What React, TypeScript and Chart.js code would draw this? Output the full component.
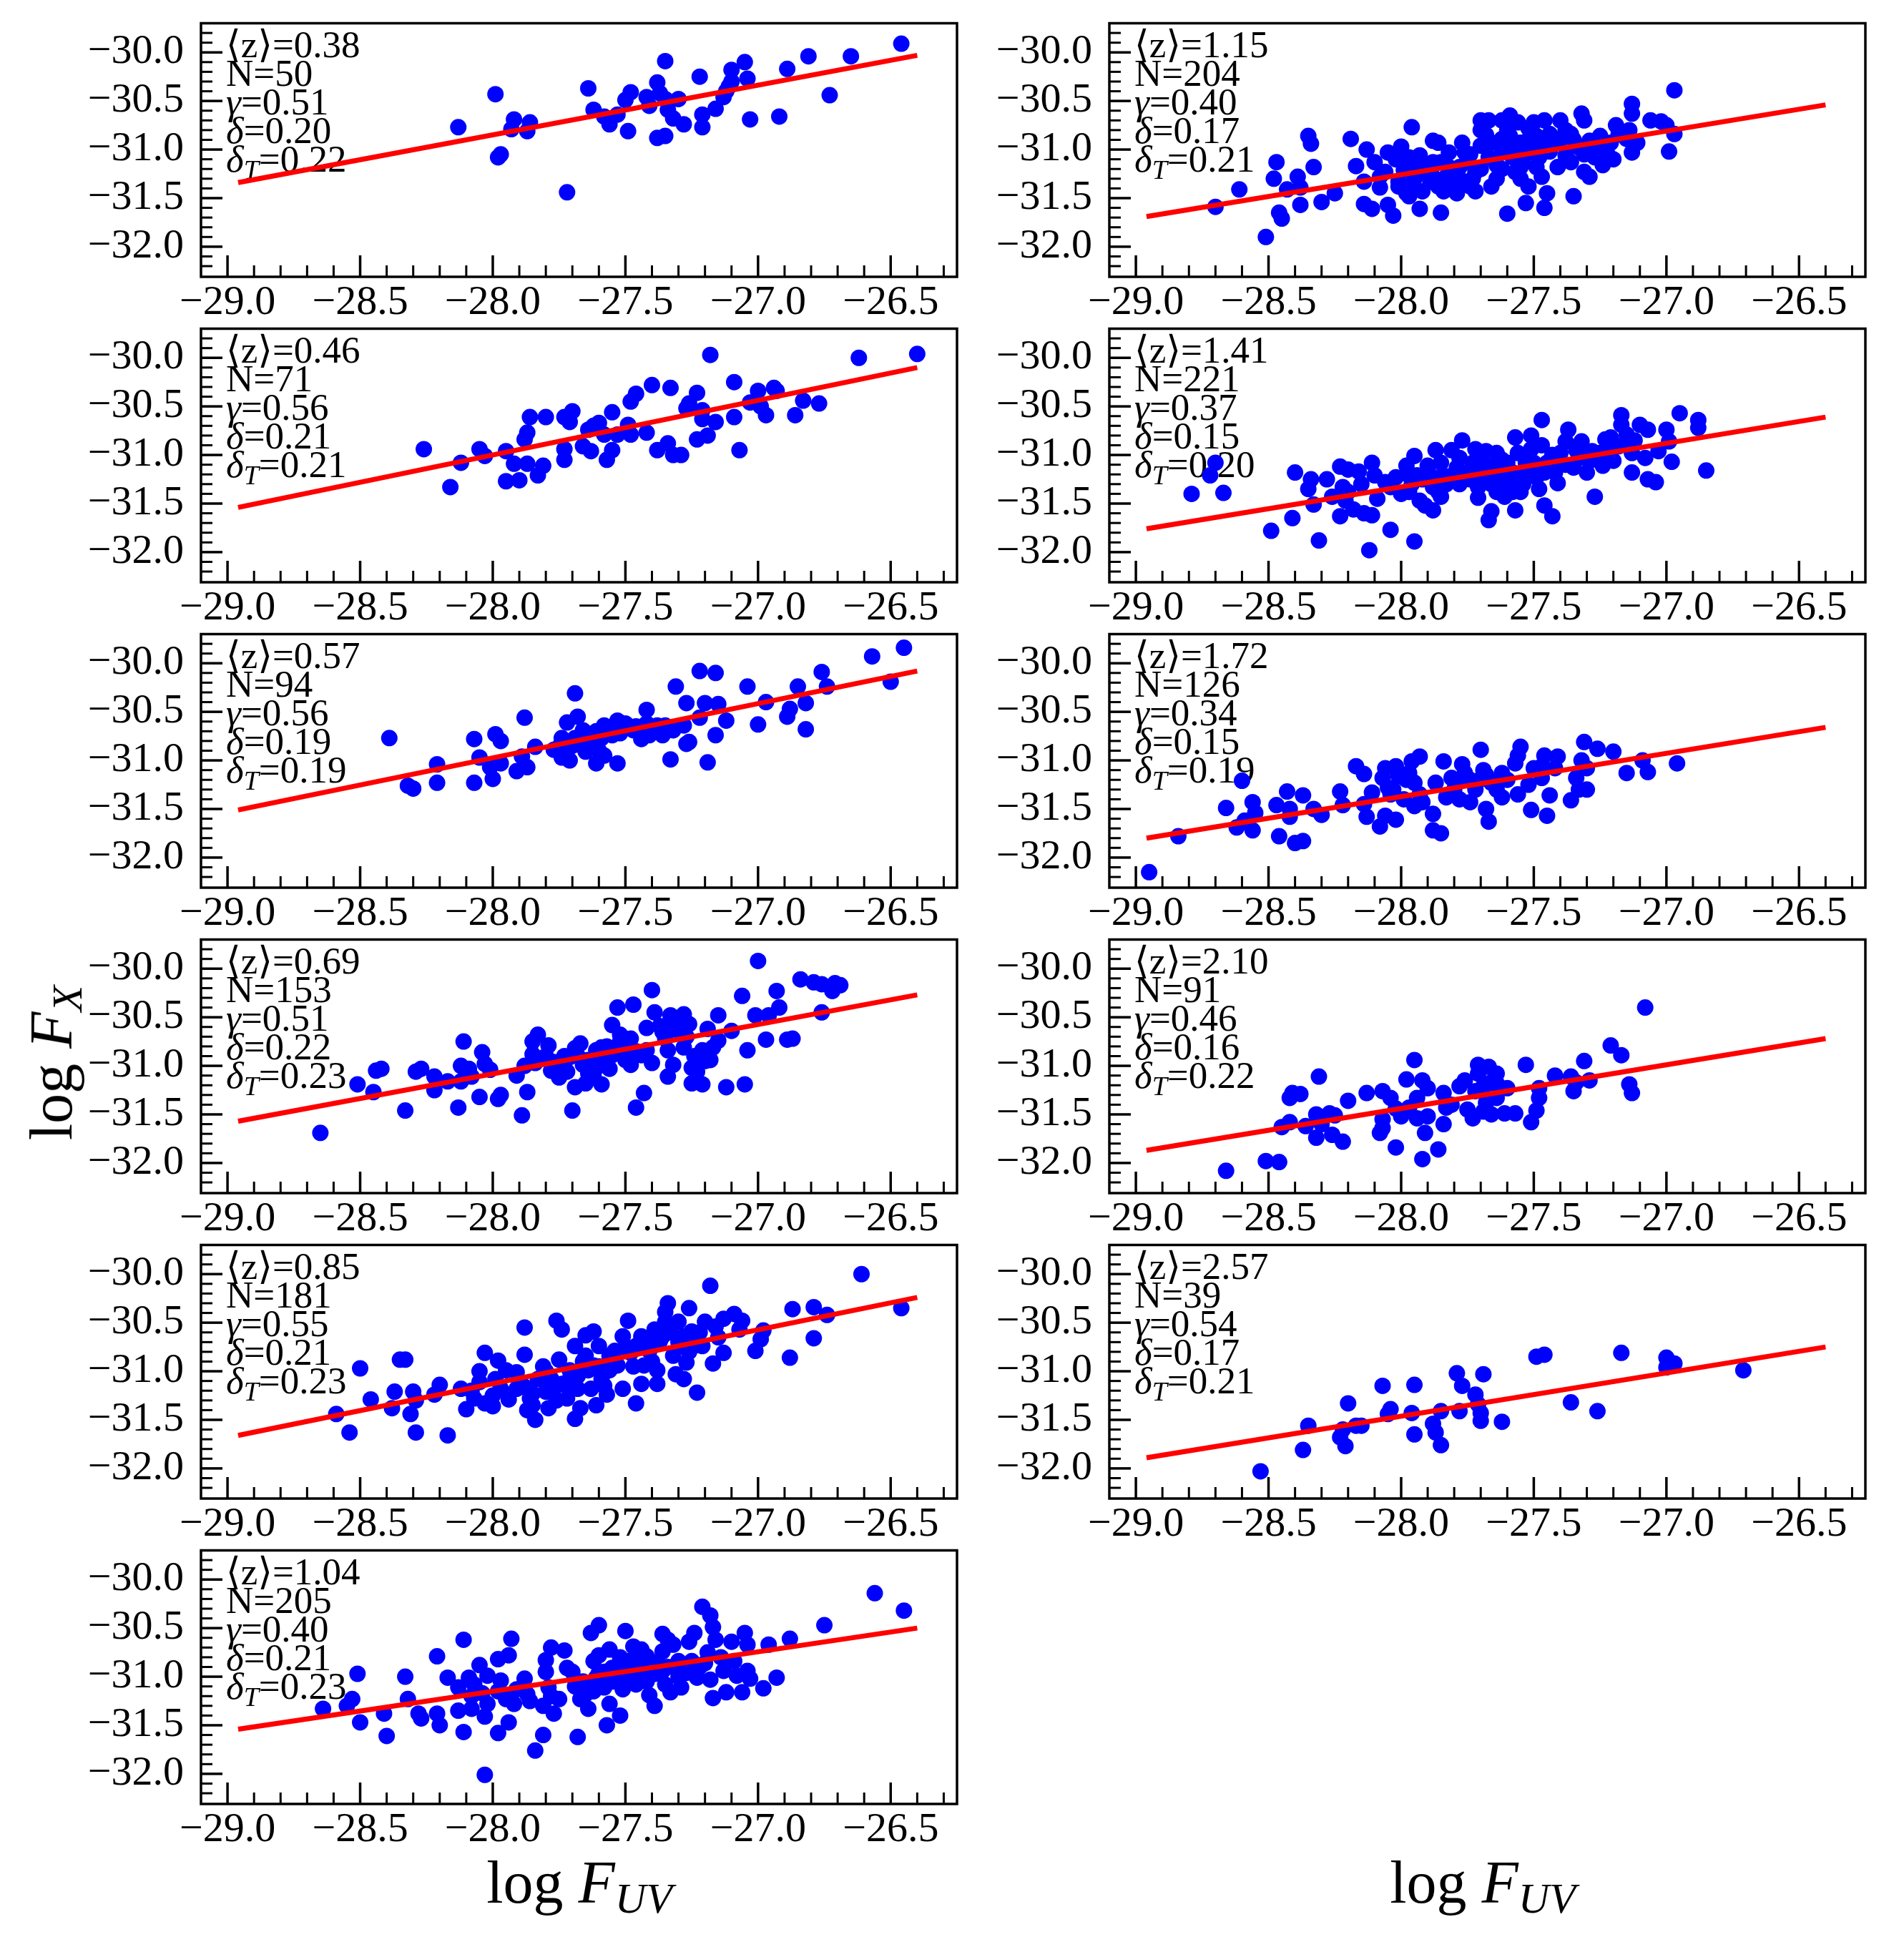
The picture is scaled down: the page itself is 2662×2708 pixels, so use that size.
import { useEffect, useRef } from 'react';
import Chart from 'chart.js/auto';

// axis setup shared by every panel
const xTicks = [-29.0, -28.5, -28.0, -27.5, -27.0, -26.5];
const yTicks = [-30.0, -30.5, -31.0, -31.5, -32.0];
const xMin = -29.1;
const xMax = -26.25;
const yMin = -32.31;
const yMax = -29.7;

// panel annotations (left column top->bottom, then right column)
const zLabels = ['0.38', '0.46', '0.57', '0.69', '0.85', '1.04', '1.15', '1.41', '1.72', '2.10', '2.57'];
const nLabels = ['50', '71', '94', '153', '181', '205', '204', '221', '126', '91', '39'];
const gammaLabels = ['0.51', '0.56', '0.56', '0.51', '0.55', '0.40', '0.40', '0.37', '0.34', '0.46', '0.54'];
const deltaLabels = ['0.20', '0.21', '0.19', '0.22', '0.21', '0.21', '0.17', '0.15', '0.15', '0.16', '0.17'];
const deltaTLabels = ['0.22', '0.21', '0.19', '0.23', '0.23', '0.23', '0.21', '0.20', '0.19', '0.22', '0.21'];

// red fit line: log F_X at the two ends of fitX
const fitX = [-28.96, -26.4];
const fitStart = [-31.34, -31.54, -31.51, -31.57, -31.66, -31.54, -31.69, -31.76, -31.8, -31.87, -31.89];
const fitEnd = [-30.03, -30.1, -30.08, -30.27, -30.24, -30.5, -30.54, -30.61, -30.66, -30.72, -30.75];

type Pt = [number, number];

const z038: Pt[] = [
  [-28.13, -30.77], [-27.99, -30.43], [-27.98, -31.08], [-27.97, -31.05], [-27.92, -30.69], [-27.93, -30.79],
  [-27.86, -30.72], [-27.87, -30.81], [-27.72, -31.44], [-27.64, -30.37], [-27.62, -30.59], [-27.58, -30.66],
  [-27.56, -30.74], [-27.53, -30.64], [-27.5, -30.49], [-27.48, -30.41], [-27.49, -30.81], [-27.42, -30.46],
  [-27.41, -30.55], [-27.38, -30.31], [-27.35, -30.09], [-27.37, -30.42], [-27.35, -30.48], [-27.34, -30.59],
  [-27.32, -30.68], [-27.3, -30.48], [-27.38, -30.88], [-27.35, -30.86], [-27.28, -30.74], [-27.22, -30.25],
  [-27.21, -30.64], [-27.21, -30.77], [-27.16, -30.58], [-27.13, -30.46], [-27.12, -30.4], [-27.1, -30.3],
  [-27.1, -30.18], [-27.05, -30.1], [-27.04, -30.27], [-27.03, -30.69], [-26.92, -30.66], [-26.89, -30.17],
  [-26.81, -30.04], [-26.73, -30.44], [-26.65, -30.04], [-26.46, -29.91], [-27.11, -30.35],
];

const z046: Pt[] = [
  [-28.26, -30.94], [-28.16, -31.33], [-28.12, -31.08], [-28.05, -30.94], [-28.03, -31.01], [-27.95, -31.27],
  [-27.95, -30.96], [-27.92, -31.09], [-27.9, -31.26], [-27.87, -31.09], [-27.88, -30.84], [-27.87, -30.77],
  [-27.86, -30.61], [-27.83, -31.21], [-27.81, -31.11], [-27.8, -30.61], [-27.73, -31.05], [-27.73, -30.94],
  [-27.73, -30.61], [-27.71, -30.66], [-27.7, -30.55], [-27.66, -30.91], [-27.64, -30.74], [-27.63, -30.96],
  [-27.62, -30.7], [-27.6, -30.67], [-27.58, -30.79], [-27.57, -31.05], [-27.55, -30.56], [-27.55, -30.95],
  [-27.53, -30.79], [-27.49, -30.69], [-27.48, -30.79], [-27.48, -30.45], [-27.46, -30.37], [-27.42, -30.77],
  [-27.4, -30.28], [-27.38, -30.95], [-27.34, -30.88], [-27.33, -30.31], [-27.32, -31.0], [-27.29, -31.0],
  [-27.27, -30.52], [-27.26, -30.47], [-27.23, -30.36], [-27.23, -30.84], [-27.21, -30.54], [-27.21, -30.63],
  [-27.19, -30.8], [-27.18, -29.97], [-27.16, -30.66], [-27.09, -30.61], [-27.09, -30.25], [-27.07, -30.95],
  [-27.03, -30.46], [-27.0, -30.34], [-26.99, -30.5], [-26.97, -30.59], [-26.94, -30.31], [-26.93, -30.34],
  [-26.86, -30.59], [-26.83, -30.44], [-26.77, -30.47], [-26.62, -30.0], [-26.4, -29.96],
];

const z057: Pt[] = [
  [-28.39, -30.77], [-28.32, -31.26], [-28.3, -31.29], [-28.21, -31.23], [-28.21, -31.04], [-28.07, -30.78],
  [-28.07, -31.23], [-28.05, -30.97], [-28.01, -31.07], [-28.0, -31.19], [-27.99, -30.73], [-27.97, -30.8],
  [-27.97, -31.03], [-27.91, -31.11], [-27.89, -30.96], [-27.87, -31.07], [-27.88, -30.56], [-27.84, -30.86],
  [-27.77, -30.89], [-27.74, -30.77], [-27.74, -30.97], [-27.72, -30.61], [-27.71, -31.0], [-27.69, -30.31],
  [-27.68, -30.55], [-27.67, -30.84], [-27.66, -30.69], [-27.65, -30.91], [-27.63, -30.79], [-27.61, -30.7],
  [-27.61, -31.03], [-27.61, -30.84], [-27.58, -30.95], [-27.58, -30.64], [-27.55, -30.74], [-27.53, -31.03],
  [-27.53, -30.59], [-27.5, -30.62], [-27.47, -30.69], [-27.42, -30.48], [-27.42, -30.62], [-27.41, -30.74],
  [-27.39, -30.69], [-27.36, -30.74], [-27.35, -30.64], [-27.33, -30.99], [-27.31, -30.24], [-27.28, -30.64],
  [-27.27, -30.41], [-27.27, -30.83], [-27.26, -30.81], [-27.22, -30.08], [-27.22, -30.56], [-27.2, -30.41],
  [-27.19, -31.02], [-27.16, -30.1], [-27.16, -30.74], [-27.15, -30.42], [-27.12, -30.59], [-27.04, -30.24],
  [-27.0, -30.63], [-26.97, -30.4], [-26.89, -30.55], [-26.88, -30.47], [-26.85, -30.24], [-26.82, -30.41],
  [-26.82, -30.68], [-26.76, -30.09], [-26.74, -30.24], [-26.57, -29.93], [-26.5, -30.19], [-26.45, -29.84],
  [-27.75, -30.86], [-27.69, -30.77], [-27.64, -30.84], [-27.59, -30.77], [-27.38, -30.64], [-27.32, -30.69],
  [-27.7, -30.85], [-27.66, -30.75], [-27.6, -30.9], [-27.56, -30.68], [-27.52, -30.72], [-27.46, -30.65],
  [-27.44, -30.78], [-27.36, -30.7],
];

const z069: Pt[] = [
  [-28.65, -31.69], [-28.51, -31.19], [-28.45, -31.27], [-28.44, -31.05], [-28.42, -31.03], [-28.33, -31.46],
  [-28.29, -31.06], [-28.27, -31.03], [-28.22, -31.25], [-28.22, -31.11], [-28.17, -31.16], [-28.13, -31.43],
  [-28.12, -31.0], [-28.11, -30.75], [-28.12, -31.16], [-28.09, -31.03], [-28.08, -31.11], [-28.05, -31.32],
  [-28.04, -30.86], [-28.03, -30.98], [-28.01, -31.04], [-27.98, -31.34], [-27.97, -31.3], [-27.91, -31.1],
  [-27.89, -31.51], [-27.88, -31.0], [-27.87, -31.27], [-27.85, -30.75], [-27.85, -30.88], [-27.83, -30.68],
  [-27.84, -30.97], [-27.79, -30.79], [-27.77, -30.96], [-27.75, -31.12], [-27.73, -30.9], [-27.72, -31.06],
  [-27.7, -31.46], [-27.69, -30.82], [-27.69, -31.22], [-27.67, -30.77], [-27.66, -30.99], [-27.65, -31.18],
  [-27.64, -31.08], [-27.61, -30.84], [-27.61, -31.02], [-27.59, -31.19], [-27.59, -30.81], [-27.58, -30.94],
  [-27.56, -31.03], [-27.55, -30.58], [-27.53, -30.4], [-27.52, -30.68], [-27.51, -30.84], [-27.5, -30.94],
  [-27.48, -30.72], [-27.48, -30.99], [-27.47, -30.37], [-27.46, -31.43], [-27.43, -31.28], [-27.42, -30.61],
  [-27.42, -30.84], [-27.4, -30.22], [-27.4, -30.97], [-27.39, -30.45], [-27.37, -30.59], [-27.35, -30.72],
  [-27.34, -30.84], [-27.34, -31.11], [-27.33, -30.48], [-27.32, -30.99], [-27.3, -30.64], [-27.28, -30.47],
  [-27.28, -30.81], [-27.26, -30.57], [-27.25, -31.02], [-27.25, -31.18], [-27.23, -31.06], [-27.21, -30.84],
  [-27.21, -31.19], [-27.19, -30.62], [-27.18, -30.94], [-27.17, -30.81], [-27.15, -30.48], [-27.15, -30.74],
  [-27.12, -31.22], [-27.1, -30.64], [-27.06, -30.28], [-27.05, -31.19], [-27.04, -30.84], [-27.01, -30.48],
  [-27.0, -29.92], [-26.97, -30.73], [-26.96, -30.48], [-26.93, -30.23], [-26.92, -30.4], [-26.89, -30.73],
  [-26.87, -30.72], [-26.84, -30.11], [-26.79, -30.14], [-26.76, -30.16], [-26.76, -30.45], [-26.72, -30.23],
  [-26.71, -30.15], [-26.69, -30.17], [-27.75, -30.99], [-27.71, -30.91], [-27.64, -30.94], [-27.55, -30.89],
  [-27.44, -30.89], [-27.8, -30.9], [-27.78, -31.05], [-27.68, -30.9], [-27.62, -31.1], [-27.57, -30.8],
  [-27.52, -30.75], [-27.46, -30.85], [-27.36, -30.65], [-27.32, -30.55], [-27.27, -30.7], [-27.24, -30.9],
  [-27.2, -30.95],
];

const z085: Pt[] = [
  [-28.59, -31.44], [-28.54, -31.63], [-28.5, -30.97], [-28.46, -31.29], [-28.38, -31.38], [-28.37, -31.21],
  [-28.35, -30.88], [-28.33, -30.88], [-28.31, -31.44], [-28.3, -31.21], [-28.29, -31.63], [-28.29, -31.3],
  [-28.22, -31.24], [-28.2, -31.14], [-28.17, -31.66], [-28.12, -31.18], [-28.1, -31.39], [-28.07, -31.28],
  [-28.05, -31.0], [-28.05, -31.11], [-28.03, -30.81], [-28.03, -31.33], [-28.0, -31.36], [-27.98, -30.89],
  [-27.97, -31.18], [-27.95, -30.99], [-27.94, -31.29], [-27.91, -31.01], [-27.88, -30.83], [-27.88, -31.16],
  [-27.88, -30.55], [-27.87, -31.4], [-27.85, -31.23], [-27.85, -31.35], [-27.84, -31.5], [-27.81, -30.95],
  [-27.8, -31.21], [-27.79, -31.38], [-27.78, -31.08], [-27.76, -30.48], [-27.75, -30.88], [-27.74, -30.57],
  [-27.74, -31.13], [-27.72, -31.28], [-27.71, -30.99], [-27.69, -31.49], [-27.69, -30.74], [-27.68, -31.18],
  [-27.67, -31.38], [-27.65, -30.63], [-27.64, -30.99], [-27.63, -31.18], [-27.62, -30.59], [-27.61, -31.35],
  [-27.6, -30.74], [-27.59, -31.08], [-27.57, -31.24], [-27.56, -30.99], [-27.54, -30.79], [-27.53, -30.94],
  [-27.51, -30.64], [-27.51, -31.18], [-27.49, -30.48], [-27.48, -30.81], [-27.46, -31.33], [-27.44, -30.64],
  [-27.44, -31.13], [-27.43, -30.94], [-27.41, -30.79], [-27.39, -30.57], [-27.38, -31.13], [-27.38, -30.99],
  [-27.37, -30.69], [-27.35, -30.49], [-27.35, -30.39], [-27.34, -30.3], [-27.32, -30.84], [-27.31, -31.03],
  [-27.3, -30.49], [-27.29, -30.74], [-27.28, -31.08], [-27.27, -30.91], [-27.26, -30.35], [-27.25, -30.59],
  [-27.23, -30.73], [-27.23, -31.22], [-27.21, -30.74], [-27.2, -30.49], [-27.18, -30.12], [-27.17, -30.92],
  [-27.16, -30.54], [-27.13, -30.81], [-27.13, -30.46], [-27.09, -30.41], [-27.07, -30.57], [-27.06, -30.48],
  [-27.01, -30.79], [-26.99, -30.67], [-26.98, -30.58], [-26.88, -30.86], [-26.87, -30.36], [-26.79, -30.66],
  [-26.79, -30.34], [-26.74, -30.42], [-26.61, -30.0], [-26.46, -30.35], [-27.83, -31.08], [-27.77, -31.18],
  [-27.71, -31.08], [-27.65, -30.84], [-27.62, -30.94], [-27.56, -30.84], [-27.46, -30.74], [-27.36, -30.64],
  [-27.28, -30.64], [-27.99, -31.08], [-27.91, -31.18], [-27.9, -31.1], [-27.86, -31.28], [-27.8, -31.0],
  [-27.76, -31.3], [-27.72, -31.15], [-27.68, -31.05], [-27.66, -30.9], [-27.6, -30.95], [-27.58, -31.15],
  [-27.54, -30.9], [-27.5, -30.75], [-27.47, -30.95], [-27.42, -30.7], [-27.4, -30.9], [-27.33, -30.6],
  [-27.3, -30.7], [-27.26, -30.8], [-27.22, -30.6], [-27.15, -30.65], [-28.08, -31.2], [-28.0, -31.25],
];

const z104: Pt[] = [
  [-28.64, -31.33], [-28.55, -31.3], [-28.53, -31.23], [-28.51, -30.97], [-28.5, -31.47], [-28.41, -31.38],
  [-28.4, -31.61], [-28.33, -31.0], [-28.32, -31.23], [-28.28, -31.38], [-28.27, -31.43], [-28.21, -30.79],
  [-28.21, -31.38], [-28.2, -31.5], [-28.17, -31.01], [-28.13, -31.35], [-28.13, -31.11], [-28.11, -30.62],
  [-28.11, -31.57], [-28.09, -31.01], [-28.08, -31.33], [-28.07, -31.08], [-28.05, -30.88], [-28.04, -31.17],
  [-28.03, -31.41], [-28.02, -31.28], [-28.02, -30.99], [-28.03, -32.01], [-27.98, -30.82], [-27.98, -31.58],
  [-27.97, -31.04], [-27.95, -31.23], [-27.94, -30.78], [-27.94, -31.47], [-27.93, -30.61], [-27.92, -31.28],
  [-27.91, -31.13], [-27.88, -31.02], [-27.87, -31.18], [-27.84, -31.76], [-27.81, -31.6], [-27.81, -31.3],
  [-27.8, -30.83], [-27.8, -30.95], [-27.79, -31.11], [-27.78, -30.7], [-27.77, -31.38], [-27.75, -31.23],
  [-27.73, -30.73], [-27.72, -30.91], [-27.69, -31.1], [-27.68, -31.62], [-27.67, -31.23], [-27.65, -31.18],
  [-27.64, -31.33], [-27.63, -30.55], [-27.62, -30.84], [-27.61, -31.01], [-27.6, -30.47], [-27.6, -30.78],
  [-27.58, -31.11], [-27.57, -31.5], [-27.56, -31.28], [-27.56, -30.72], [-27.55, -30.91], [-27.53, -31.03],
  [-27.52, -31.4], [-27.51, -31.13], [-27.5, -30.53], [-27.49, -30.84], [-27.48, -30.99], [-27.47, -30.69],
  [-27.46, -31.08], [-27.44, -30.89], [-27.42, -30.79], [-27.41, -31.19], [-27.39, -31.3], [-27.39, -30.97],
  [-27.36, -30.56], [-27.36, -30.74], [-27.35, -31.08], [-27.34, -30.62], [-27.33, -31.16], [-27.32, -30.67],
  [-27.3, -30.84], [-27.29, -31.11], [-27.27, -30.96], [-27.26, -30.64], [-27.24, -30.55], [-27.23, -31.01],
  [-27.21, -30.28], [-27.2, -30.86], [-27.18, -30.37], [-27.18, -31.03], [-27.17, -31.22], [-27.17, -30.49],
  [-27.16, -30.62], [-27.13, -30.94], [-27.12, -31.16], [-27.1, -30.64], [-27.09, -30.84], [-27.08, -30.99],
  [-27.06, -31.16], [-27.05, -30.55], [-27.04, -30.67], [-27.04, -30.94], [-27.03, -31.02], [-26.98, -31.12],
  [-26.96, -30.67], [-26.93, -31.01], [-26.88, -30.61], [-26.75, -30.47], [-26.56, -30.14], [-26.45, -30.32],
  [-27.6, -30.96], [-27.52, -30.89], [-27.44, -30.99], [-27.36, -30.94], [-27.28, -30.89], [-27.44, -30.72],
  [-27.25, -30.84], [-27.7, -30.95], [-27.66, -31.05], [-27.62, -31.15], [-27.58, -30.95], [-27.55, -31.05],
  [-27.52, -30.8], [-27.48, -30.9], [-27.45, -30.8], [-27.42, -31.05], [-27.38, -30.85], [-27.34, -30.9],
  [-27.3, -31.0], [-27.26, -30.95], [-27.22, -30.9], [-27.19, -30.75], [-27.14, -30.8], [-27.86, -31.25],
  [-27.78, -31.2], [-27.98, -31.15], [-28.08, -31.2],
];

const z115: Pt[] = [
  [-28.7, -31.59], [-28.61, -31.41], [-28.51, -31.9], [-28.47, -31.13], [-28.48, -31.3], [-28.46, -31.65],
  [-28.45, -31.71], [-28.43, -31.41], [-28.39, -31.28], [-28.38, -31.39], [-28.38, -31.57], [-28.35, -30.86],
  [-28.34, -30.94], [-28.33, -31.18], [-28.3, -31.54], [-28.25, -31.45], [-28.19, -30.89], [-28.17, -31.17],
  [-28.14, -31.33], [-28.13, -31.0], [-28.14, -31.56], [-28.11, -31.61], [-28.1, -31.13], [-28.08, -31.39],
  [-28.05, -31.03], [-28.05, -31.57], [-28.03, -31.68], [-28.01, -31.33], [-28.0, -30.97], [-27.99, -31.21],
  [-27.98, -31.45], [-27.97, -31.08], [-27.96, -30.77], [-27.95, -31.3], [-27.94, -31.16], [-27.93, -31.61],
  [-27.92, -31.43], [-27.88, -30.91], [-27.88, -31.28], [-27.86, -30.93], [-27.85, -31.13], [-27.85, -31.65],
  [-27.84, -31.43], [-27.83, -31.28], [-27.82, -31.03], [-27.79, -31.45], [-27.78, -31.18], [-27.77, -30.93],
  [-27.76, -31.03], [-27.74, -31.38], [-27.73, -31.3], [-27.72, -31.43], [-27.72, -31.23], [-27.7, -30.7],
  [-27.7, -30.8], [-27.7, -30.96], [-27.67, -30.7], [-27.66, -30.93], [-27.64, -31.3], [-27.64, -31.16],
  [-27.62, -30.89], [-27.62, -30.7], [-27.59, -30.65], [-27.6, -31.66], [-27.59, -30.86], [-27.58, -31.08],
  [-27.57, -31.23], [-27.56, -30.72], [-27.55, -30.93], [-27.55, -31.3], [-27.54, -31.13], [-27.53, -31.55],
  [-27.52, -31.38], [-27.5, -30.72], [-27.5, -31.03], [-27.49, -30.86], [-27.48, -31.08], [-27.47, -30.98],
  [-27.46, -30.7], [-27.46, -31.6], [-27.45, -31.45], [-27.44, -30.84], [-27.43, -30.93], [-27.41, -31.18],
  [-27.4, -30.7], [-27.38, -31.06], [-27.36, -30.84], [-27.36, -31.13], [-27.35, -31.48], [-27.33, -30.98],
  [-27.32, -30.63], [-27.31, -30.7], [-27.31, -31.23], [-27.29, -31.28], [-27.29, -30.91], [-27.27, -31.08],
  [-27.25, -30.86], [-27.24, -31.16], [-27.22, -31.06], [-27.23, -30.98], [-27.19, -30.75], [-27.18, -30.84],
  [-27.15, -30.89], [-27.14, -30.8], [-27.13, -30.53], [-27.13, -30.63], [-27.13, -31.03], [-27.11, -30.93],
  [-27.06, -30.7], [-27.02, -30.71], [-27.0, -30.75], [-26.99, -31.02], [-26.97, -30.84], [-26.97, -30.39],
  [-28.01, -31.38], [-27.97, -31.48], [-27.92, -31.23], [-27.89, -31.33], [-27.88, -31.13], [-27.8, -31.33],
  [-27.75, -31.13], [-27.67, -31.08], [-27.62, -31.03], [-27.54, -30.98], [-27.49, -31.18], [-27.42, -30.89],
  [-27.38, -30.8], [-27.28, -30.98], [-27.21, -30.93], [-28.06, -31.23], [-27.93, -31.06], [-27.85, -31.33],
  [-28.08, -31.28], [-28.02, -31.1], [-27.96, -31.36], [-27.9, -31.2], [-27.86, -31.38], [-27.82, -31.18],
  [-27.78, -31.3], [-27.74, -31.05], [-27.7, -31.2], [-27.66, -31.38], [-27.62, -31.2], [-27.58, -30.98],
  [-27.55, -31.18], [-27.52, -30.9], [-27.47, -31.28], [-27.44, -31.02], [-27.4, -30.9], [-27.35, -30.9],
  [-27.31, -31.05], [-27.26, -31.0], [-27.2, -31.1], [-27.68, -30.85], [-27.6, -30.8], [-27.52, -30.78],
];

const z141: Pt[] = [
  [-28.79, -31.4], [-28.72, -31.21], [-28.7, -31.08], [-28.67, -31.39], [-28.49, -31.78], [-28.41, -31.65],
  [-28.4, -31.18], [-28.35, -31.35], [-28.34, -31.25], [-28.33, -31.51], [-28.31, -31.88], [-28.28, -31.25],
  [-28.26, -31.43], [-28.23, -31.12], [-28.23, -31.63], [-28.22, -31.33], [-28.21, -31.47], [-28.2, -31.15],
  [-28.18, -31.56], [-28.16, -31.17], [-28.14, -31.6], [-28.12, -31.98], [-28.11, -31.08], [-28.1, -31.21],
  [-28.09, -31.45], [-28.11, -31.62], [-28.04, -31.33], [-28.04, -31.77], [-28.02, -31.23], [-27.98, -31.11],
  [-27.97, -31.38], [-27.95, -31.01], [-27.95, -31.89], [-27.94, -31.21], [-27.93, -31.47], [-27.91, -31.52],
  [-27.9, -31.11], [-27.88, -31.33], [-27.88, -31.57], [-27.87, -30.95], [-27.85, -31.43], [-27.85, -31.08],
  [-27.83, -31.3], [-27.81, -30.95], [-27.78, -31.03], [-27.77, -30.85], [-27.75, -31.18], [-27.72, -30.94],
  [-27.71, -31.33], [-27.71, -31.44], [-27.69, -31.08], [-27.68, -30.96], [-27.67, -31.67], [-27.66, -31.58],
  [-27.66, -31.3], [-27.64, -30.98], [-27.63, -31.18], [-27.61, -31.43], [-27.6, -31.08], [-27.59, -31.28],
  [-27.57, -30.82], [-27.57, -31.57], [-27.56, -30.98], [-27.55, -31.38], [-27.54, -31.18], [-27.53, -31.08],
  [-27.51, -30.8], [-27.51, -30.94], [-27.49, -31.23], [-27.48, -31.35], [-27.47, -30.64], [-27.46, -31.52],
  [-27.45, -31.08], [-27.43, -31.63], [-27.42, -31.18], [-27.41, -31.29], [-27.4, -30.98], [-27.38, -30.86],
  [-27.37, -30.74], [-27.35, -31.13], [-27.33, -31.03], [-27.32, -30.86], [-27.29, -31.06], [-27.27, -31.43],
  [-27.25, -30.98], [-27.24, -31.11], [-27.23, -30.84], [-27.21, -30.82], [-27.2, -31.06], [-27.18, -30.91],
  [-27.17, -30.59], [-27.17, -30.69], [-27.15, -30.79], [-27.13, -30.98], [-27.13, -31.18], [-27.1, -30.69],
  [-27.08, -31.03], [-27.07, -30.74], [-27.07, -31.25], [-27.04, -31.28], [-27.03, -30.96], [-27.0, -30.74],
  [-26.99, -30.86], [-26.98, -31.07], [-26.95, -30.57], [-26.88, -30.64], [-26.88, -30.72], [-26.85, -31.16],
  [-27.97, -31.21], [-27.89, -31.21], [-27.79, -31.13], [-27.73, -31.08], [-27.68, -31.21], [-27.62, -31.28],
  [-27.58, -31.18], [-27.5, -31.08], [-27.46, -31.18], [-27.4, -31.08], [-27.28, -30.96], [-27.85, -31.23],
  [-27.71, -31.23], [-27.64, -31.38], [-28.06, -31.28], [-28.0, -31.4], [-27.96, -31.3], [-27.92, -31.25],
  [-27.86, -31.38], [-27.82, -31.22], [-27.78, -31.3], [-27.74, -31.25], [-27.7, -31.16], [-27.66, -31.12],
  [-27.62, -31.05], [-27.58, -31.38], [-27.54, -31.3], [-27.5, -31.2], [-27.47, -30.9], [-27.43, -31.0],
  [-27.38, -31.1], [-27.34, -30.95], [-27.3, -31.18], [-27.26, -31.05], [-27.22, -30.95], [-27.15, -30.9],
  [-27.12, -30.85], [-28.15, -31.3], [-28.2, -31.38],
];

const z172: Pt[] = [
  [-28.95, -32.15], [-28.84, -31.78], [-28.66, -31.49], [-28.62, -31.69], [-28.6, -31.21], [-28.59, -31.62],
  [-28.56, -31.43], [-28.56, -31.72], [-28.55, -31.54], [-28.47, -31.46], [-28.46, -31.78], [-28.43, -31.32],
  [-28.42, -31.5], [-28.42, -31.58], [-28.4, -31.85], [-28.37, -31.83], [-28.37, -31.36], [-28.33, -31.5],
  [-28.3, -31.56], [-28.23, -31.32], [-28.22, -31.46], [-28.17, -31.06], [-28.14, -31.14], [-28.14, -31.45],
  [-28.13, -31.58], [-28.11, -31.33], [-28.08, -31.68], [-28.07, -31.18], [-28.06, -31.08], [-28.06, -31.57],
  [-28.04, -31.35], [-28.02, -31.06], [-28.02, -31.61], [-28.01, -31.16], [-27.99, -31.4], [-27.96, -31.01],
  [-27.95, -31.23], [-27.95, -31.47], [-27.93, -30.96], [-27.92, -31.43], [-27.88, -31.72], [-27.88, -31.55],
  [-27.87, -31.23], [-27.85, -31.75], [-27.83, -31.38], [-27.84, -31.01], [-27.81, -31.18], [-27.78, -31.4],
  [-27.77, -31.04], [-27.76, -31.13], [-27.74, -31.43], [-27.72, -31.3], [-27.7, -30.89], [-27.69, -31.1],
  [-27.68, -31.5], [-27.67, -31.63], [-27.66, -31.23], [-27.64, -31.3], [-27.62, -31.38], [-27.62, -31.13],
  [-27.57, -31.03], [-27.56, -31.35], [-27.56, -30.95], [-27.55, -30.86], [-27.51, -31.51], [-27.5, -31.08],
  [-27.47, -31.18], [-27.46, -30.95], [-27.45, -31.57], [-27.44, -31.36], [-27.42, -31.08], [-27.41, -30.96],
  [-27.36, -31.41], [-27.34, -31.18], [-27.33, -31.3], [-27.31, -30.81], [-27.3, -31.08], [-27.3, -31.3],
  [-27.26, -30.88], [-27.2, -30.91], [-27.15, -31.13], [-27.09, -31.0], [-27.07, -31.12], [-26.96, -31.03],
  [-28.05, -31.28], [-27.97, -31.13], [-27.79, -31.23], [-27.71, -31.21], [-27.47, -31.06], [-28.03, -31.3],
  [-27.98, -31.2], [-27.93, -31.35], [-27.8, -31.3], [-27.74, -31.2], [-27.68, -31.15], [-27.6, -31.2],
  [-27.52, -31.25], [-27.32, -31.0],
];

const z210: Pt[] = [
  [-28.66, -32.08], [-28.51, -31.98], [-28.46, -31.99], [-28.45, -31.63], [-28.42, -31.58], [-28.42, -31.33],
  [-28.41, -31.28], [-28.38, -31.29], [-28.36, -31.62], [-28.32, -31.74], [-28.32, -31.5], [-28.31, -31.11],
  [-28.3, -31.6], [-28.27, -31.49], [-28.26, -31.71], [-28.25, -31.51], [-28.22, -31.78], [-28.2, -31.36],
  [-28.13, -31.28], [-28.08, -31.69], [-28.07, -31.26], [-28.07, -31.55], [-28.07, -31.64], [-28.04, -31.33],
  [-28.02, -31.44], [-28.02, -31.84], [-28.0, -31.52], [-27.98, -31.14], [-27.95, -30.94], [-27.94, -31.33],
  [-27.94, -31.54], [-27.92, -31.15], [-27.92, -31.96], [-27.91, -31.69], [-27.9, -31.52], [-27.9, -31.23],
  [-27.86, -31.86], [-27.84, -31.28], [-27.84, -31.6], [-27.83, -31.43], [-27.81, -31.4], [-27.78, -31.21],
  [-27.76, -31.15], [-27.75, -31.45], [-27.73, -31.54], [-27.72, -31.26], [-27.71, -30.99], [-27.71, -31.08],
  [-27.69, -31.47], [-27.68, -31.38], [-27.67, -31.01], [-27.67, -31.18], [-27.66, -31.5], [-27.64, -31.08],
  [-27.64, -31.33], [-27.61, -31.49], [-27.6, -31.23], [-27.57, -31.49], [-27.53, -30.99], [-27.51, -31.58],
  [-27.49, -31.46], [-27.48, -31.23], [-27.48, -31.33], [-27.42, -31.1], [-27.36, -31.11], [-27.35, -31.26],
  [-27.34, -31.17], [-27.31, -30.95], [-27.29, -31.15], [-27.21, -30.79], [-27.17, -30.89], [-27.14, -31.19],
  [-27.13, -31.28], [-27.08, -30.4], [-27.69, -31.21], [-27.64, -31.18], [-27.97, -31.43],
];

const z257: Pt[] = [
  [-28.53, -32.03], [-28.37, -31.81], [-28.35, -31.56], [-28.23, -31.68], [-28.22, -31.6], [-28.21, -31.77],
  [-28.2, -31.33], [-28.17, -31.56], [-28.15, -31.56], [-28.07, -31.15], [-28.05, -31.44], [-28.04, -31.39],
  [-27.96, -31.43], [-27.95, -31.65], [-27.95, -31.14], [-27.88, -31.54], [-27.87, -31.63], [-27.85, -31.41],
  [-27.85, -31.76], [-27.79, -31.02], [-27.78, -31.41], [-27.77, -31.15], [-27.72, -31.24], [-27.71, -31.34],
  [-27.7, -31.43], [-27.7, -31.51], [-27.69, -31.03], [-27.62, -31.52], [-27.49, -30.85], [-27.46, -30.83],
  [-27.36, -31.32], [-27.26, -31.41], [-27.17, -30.81], [-27.0, -30.86], [-27.0, -30.96], [-26.97, -30.92],
  [-26.71, -30.99],
];

const panelPoints: Pt[][] = [z038, z046, z057, z069, z085, z104, z115, z141, z172, z210, z257];

// frame geometry in page pixels
const frameW = 1057;
const frameH = 356;
const axisW = 200;
const axisH = 80;
const padTop = 10;
const padRight = 20;
const serif = '"Liberation Serif", "DejaVu Serif", serif';

function drawParts(ctx: CanvasRenderingContext2D, x: number, y: number, parts: [string, string, number][]) {
  for (const [t, f, dy] of parts) {
    ctx.font = f;
    ctx.fillText(t, x, y + dy);
    x += ctx.measureText(t).width;
  }
}

function Panel({ index }: { index: number }) {
  const canvasRef = useRef<HTMLCanvasElement>(null);
  const col = index < 6 ? 0 : 1;
  const row = index < 6 ? index : index - 6;
  const frameLeft = col === 0 ? 281 : 1551;
  const frameTop = 31 + row * 427;

  useEffect(() => {
    if (!canvasRef.current) return;
    const roman = `53px ${serif}`;
    const ital = `italic 53px ${serif}`;
    const sub = `italic 38px ${serif}`;

    const decor = {
      id: 'decor',
      beforeDatasetsDraw(chart: any) {
        const { ctx, chartArea } = chart;
        ctx.save();
        ctx.fillStyle = '#000';
        ctx.textBaseline = 'alphabetic';
        ctx.textAlign = 'left';
        const x0 = chartArea.left + 35;
        const y0 = chartArea.top;
        drawParts(ctx, x0, y0 + 47, [['⟨z⟩=' + zLabels[index], roman, 0]]);
        drawParts(ctx, x0, y0 + 87, [['N=' + nLabels[index], roman, 0]]);
        drawParts(ctx, x0, y0 + 127, [['γ', ital, 0], ['=' + gammaLabels[index], roman, 0]]);
        drawParts(ctx, x0, y0 + 167, [['δ', ital, 0], ['=' + deltaLabels[index], roman, 0]]);
        drawParts(ctx, x0, y0 + 207, [['δ', ital, 0], ['T', sub, 10], ['=' + deltaTLabels[index], roman, 0]]);
        ctx.restore();
      },
      afterDatasetsDraw(chart: any) {
        const { ctx, chartArea, scales } = chart;
        const { left, right, top, bottom } = chartArea;
        ctx.save();
        ctx.strokeStyle = '#000';
        // inward ticks on bottom and left
        const tick = (major: boolean, horiz: boolean, p: number) => {
          const len = major ? 30 : 16;
          ctx.lineWidth = major ? 3.5 : 3;
          ctx.beginPath();
          if (horiz) {
            ctx.moveTo(p, bottom);
            ctx.lineTo(p, bottom - len);
          } else {
            ctx.moveTo(left, p);
            ctx.lineTo(left + len, p);
          }
          ctx.stroke();
        };
        for (let k = -291; k <= -263; k++) {
          const v = k / 10;
          const major = xTicks.some((t) => Math.abs(t - v) < 1e-6);
          const p = scales.x.getPixelForValue(v);
          if (p > left + 2 && p < right - 2) tick(major, true, p);
        }
        for (let k = -323; k <= -297; k++) {
          const v = k / 10;
          const major = yTicks.some((t) => Math.abs(t - v) < 1e-6);
          const p = scales.y.getPixelForValue(v);
          if (p > top + 2 && p < bottom - 2) tick(major, false, p);
        }
        ctx.lineWidth = 3.5;
        ctx.strokeRect(left, top, right - left, bottom - top);
        ctx.restore();
      },
    };

    const pts = panelPoints[index];
    const chart = new Chart(canvasRef.current, {
      type: 'scatter',
      data: {
        datasets: [
          {
            data: [
              { x: fitX[0], y: fitStart[index] },
              { x: fitX[1], y: fitEnd[index] },
            ],
            showLine: true,
            borderColor: '#ff0000',
            borderWidth: 7,
            pointRadius: 0,
            order: 0,
          },
          {
            data: pts.map(([x, y]) => ({ x, y })),
            backgroundColor: '#0000ff',
            borderWidth: 0,
            pointRadius: 11.5,
            order: 1,
          },
        ],
      },
      options: {
        animation: false,
        responsive: false,
        events: [],
        layout: { padding: { top: padTop, right: padRight, left: 0, bottom: 0 } },
        plugins: { legend: { display: false }, tooltip: { enabled: false } },
        scales: {
          x: {
            type: 'linear',
            min: xMin,
            max: xMax,
            grid: { display: false },
            border: { display: false },
            afterBuildTicks: (scale: any) => {
              scale.ticks = xTicks.map((v) => ({ value: v }));
            },
            afterFit: (scale: any) => {
              scale.height = axisH;
              scale.paddingLeft = 0;
              scale.paddingRight = 0;
            },
            ticks: {
              autoSkip: false,
              maxRotation: 0,
              padding: 0,
              color: '#000',
              font: { family: serif, size: 58, lineHeight: 1 },
              callback: (v: any) => Number(v).toFixed(1).replace('-', '\u2212'),
            },
          },
          y: {
            type: 'linear',
            min: yMin,
            max: yMax,
            grid: { display: false },
            border: { display: false },
            afterBuildTicks: (scale: any) => {
              scale.ticks = yTicks.map((v) => ({ value: v }));
            },
            afterFit: (scale: any) => {
              scale.width = axisW;
              scale.paddingTop = 0;
              scale.paddingBottom = 0;
            },
            ticks: {
              autoSkip: false,
              padding: 16,
              color: '#000',
              font: { family: serif, size: 58, lineHeight: 1 },
              callback: (v: any) => Number(v).toFixed(1).replace('-', '\u2212'),
            },
          },
        },
      },
      plugins: [decor],
    });

    return () => {
      chart.destroy();
    };
  }, [index]);

  const w = axisW + frameW + padRight;
  const h = padTop + frameH + axisH;
  return (
    <canvas
      ref={canvasRef}
      width={w}
      height={h}
      style={{ position: 'absolute', left: frameLeft - axisW, top: frameTop - padTop, width: w, height: h }}
    />
  );
}

const labelStyle: React.CSSProperties = {
  position: 'absolute',
  fontFamily: serif,
  fontSize: 84,
  lineHeight: 1,
  whiteSpace: 'nowrap',
  color: '#000',
};

function FuvLabel({ cx }: { cx: number }) {
  return (
    <div style={{ ...labelStyle, left: cx, top: 2590, transform: 'translateX(-50%)' }}>
      log <i>F</i>
      <i style={{ fontSize: 60, position: 'relative', top: 14 }}>UV</i>
    </div>
  );
}

export default function App() {
  useEffect(() => {
    document.body.style.margin = '0';
  }, []);

  return (
    <div style={{ position: 'relative', width: 2662, height: 2708, background: '#fff', overflow: 'hidden' }}>
      {panelPoints.map((_, i) => (
        <Panel key={i} index={i} />
      ))}
      <div
        style={{
          ...labelStyle,
          left: 72,
          top: 1486,
          transform: 'translate(-50%, -50%) rotate(-90deg)',
        }}
      >
        log <i>F</i>
        <i style={{ fontSize: 60, position: 'relative', top: 14 }}>X</i>
      </div>
      <FuvLabel cx={810} />
      <FuvLabel cx={2073} />
    </div>
  );
}
